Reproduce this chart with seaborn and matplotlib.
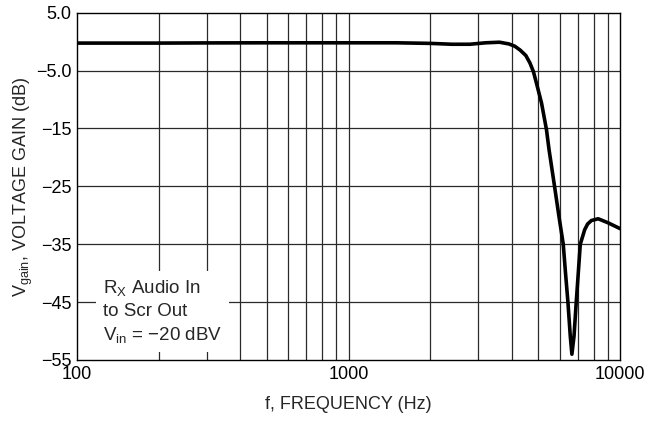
import numpy as np
import pandas as pd
import matplotlib
matplotlib.use("Agg")
import matplotlib.pyplot as plt
import seaborn as sns

freq_hz = [100, 150, 200, 300, 500, 700, 1000, 1500, 2000, 2400, 2800, 3200,
           3600, 3900, 4100, 4285, 4500, 4660, 4800, 4925, 5140, 5360, 5480,
           5740, 5950, 6180, 6300, 6430, 6560, 6650, 6770, 6900, 7140, 7280,
           7410, 7600, 7850, 8310, 9040, 10000]
gain_db = [-0.25, -0.25, -0.25, -0.22, -0.2, -0.2, -0.2, -0.2, -0.3, -0.45,
           -0.45, -0.2, -0.1, -0.4, -0.8, -1.45, -2.4, -3.7, -5.2, -7.2,
           -10.6, -15.2, -18.7, -25.0, -30.0, -35.0, -40.0, -45.0, -50.9,
           -54.0, -50.9, -45.0, -35.0, -33.7, -32.5, -31.5, -30.9, -30.6,
           -31.3, -32.3]

y_ticks = [5.0, -5.0, -15, -25, -35, -45, -55]
y_tick_labels = ["5.0", "\u22125.0", "\u221215", "\u221225", "\u221235", "\u221245", "\u221255"]
x_ticks = [100, 1000, 10000]
x_tick_labels = ["100", "1000", "10000"]
x_grid = [200, 300, 400, 500, 600, 700, 800, 900, 1000,
          2000, 3000, 4000, 5000, 6000, 7000, 8000, 9000]

sns.set_style("white")
plt.rcParams["font.family"] = ["Liberation Sans", "DejaVu Sans"]
plt.rcParams["axes.unicode_minus"] = True

df = pd.DataFrame({"f": freq_hz, "g": gain_db})

fig = plt.figure(figsize=(6.58, 4.32), dpi=100)
ax = fig.add_axes([77/658, 72/432, (620-77)/658, (360-12.7)/432])

for xv in x_grid:
    ax.axvline(xv, color="#2a2a2a", lw=0.9, zorder=1)
for yv in [-5, -15, -25, -35, -45]:
    ax.axhline(yv, color="#2a2a2a", lw=0.9, zorder=1)

sns.lineplot(data=df, x="f", y="g", ax=ax, color="black", lw=2.6, zorder=3,
             sort=False)

ax.set_xscale("log")
ax.set_xlim(100, 10000)
ax.set_ylim(-55, 5)
ax.set_xticks(x_ticks)
ax.set_xticklabels(x_tick_labels)
ax.set_yticks(y_ticks)
ax.set_yticklabels(y_tick_labels)
ax.minorticks_off()
ax.tick_params(axis="both", length=0, labelsize=13, colors="black", pad=4)
for s in ax.spines.values():
    s.set_color("black")
    s.set_linewidth(1.0)

ax.set_xlabel("f, FREQUENCY (Hz)", fontsize=13, labelpad=10)
ax.set_ylabel("V$\\mathregular{_{gain}}$, VOLTAGE GAIN (dB)", fontsize=13, labelpad=1)

ax.text(125, -46.6,
        "R$\\mathregular{_X}$ Audio In\nto Scr Out\nV$\\mathregular{_{in}}$ = \u221220 dBV",
        fontsize=13.5, ha="left", va="center", linespacing=1.36, zorder=4,
        bbox=dict(facecolor="white", edgecolor="none", pad=5))

fig.savefig("out.png", dpi=100)
